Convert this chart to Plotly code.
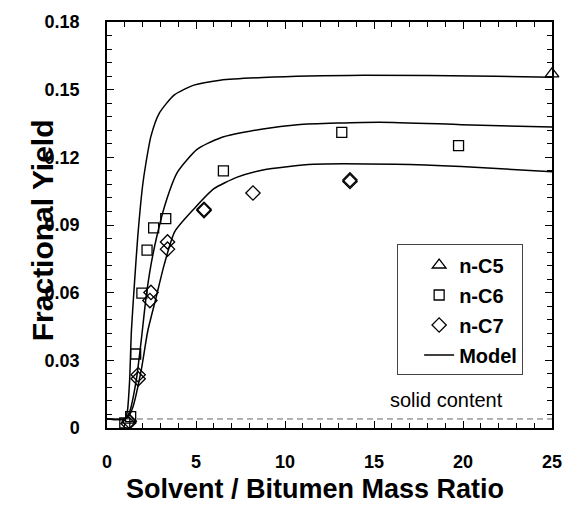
import plotly.graph_objects as go

# ---------------- data ----------------
c5_x = [1.25, 25.0]
c5_y = [0.0035, 0.157]

c6_x = [1.0, 1.33, 1.61, 1.96, 2.25, 2.62, 3.3, 6.54, 13.19, 19.75]
c6_y = [0.0023, 0.005, 0.0328, 0.0598, 0.0789, 0.0887, 0.0928, 0.114, 0.1311, 0.1252]

c7_x = [1.18, 1.25, 1.75, 1.75, 2.41, 2.47, 3.4, 3.4, 5.45, 5.45, 8.2, 13.65, 13.65]
c7_y = [0.002, 0.003, 0.0236, 0.0218, 0.0565, 0.0601, 0.0825, 0.0793, 0.0964, 0.097, 0.1042, 0.1093, 0.1100]

model_c5_x = [0, 1.0, 1.14, 1.27, 1.37, 1.55, 1.73, 2.0, 2.19, 2.47, 2.94, 3.77, 4.88, 6.36, 8.76, 14.4, 21.8, 25]
model_c5_y = [0.004, 0.004, 0.0072, 0.021, 0.043, 0.065, 0.085, 0.1074, 0.1176, 0.1294, 0.1396, 0.1476, 0.152,
              0.1542, 0.1554, 0.1564, 0.156, 0.1555]

model_c6_x = [0, 1.0, 1.27, 1.64, 1.92, 2.19, 2.47, 2.8, 3.3, 3.95, 5.06, 6.36, 8.76, 10.7, 15.3, 19.9, 25]
model_c6_y = [0.004, 0.004, 0.0072, 0.021, 0.0386, 0.0576, 0.0723, 0.085, 0.100, 0.1133, 0.1235, 0.1286, 0.1326,
              0.1345, 0.1356, 0.1345, 0.1334]

model_c7_x = [0, 1.0, 1.2, 1.46, 1.92, 2.29, 2.75, 3.21, 3.8, 4.88, 5.99, 7.28, 8.76, 11.6, 16.2, 19.9, 25]
model_c7_y = [0.004, 0.004, 0.005, 0.0094, 0.0255, 0.043, 0.0576, 0.0723, 0.087, 0.0971, 0.106, 0.1111, 0.1144,
              0.1169, 0.1169, 0.1159, 0.1136]

solid_content_x = [0, 25]
solid_content_y = [0.004, 0.004]

x_ticks = [0, 5, 10, 15, 20, 25]
y_ticks = [0, 0.03, 0.06, 0.09, 0.12, 0.15, 0.18]
y_tick_labels = ["0", "0.03", "0.06", "0.09", "0.12", "0.15", "0.18"]

FONT = "Liberation Sans, Arial, sans-serif"

fig = go.Figure()

# solid content dashed line
fig.add_trace(go.Scatter(x=solid_content_x, y=solid_content_y, mode="lines",
                         line=dict(color="#666666", width=1, dash="6px,4px"),
                         showlegend=False, hoverinfo="skip"))

# model curves
for i, (mx, my) in enumerate([(model_c5_x, model_c5_y), (model_c6_x, model_c6_y), (model_c7_x, model_c7_y)]):
    fig.add_trace(go.Scatter(x=mx, y=my, mode="lines", name="Model",
                             line=dict(color="black", width=1.5, shape="spline", smoothing=0.6),
                             showlegend=(i == 0), legendrank=4, legendgroup="model"))

mk_line = dict(color="black", width=1.3)
fig.add_trace(go.Scatter(x=c5_x, y=c5_y, mode="markers", name="n-C5", legendrank=1, legendgroup="c5",
                         cliponaxis=False,
                         marker=dict(symbol="triangle-up-open", size=12, color="black", line=mk_line)))
fig.add_trace(go.Scatter(x=c6_x, y=c6_y, mode="markers", name="n-C6", legendrank=2, legendgroup="c6",
                         marker=dict(symbol="square-open", size=10, color="black", line=mk_line)))
fig.add_trace(go.Scatter(x=c7_x, y=c7_y, mode="markers", name="n-C7", legendrank=3, legendgroup="c7",
                         marker=dict(symbol="diamond-open", size=11, color="black", line=mk_line)))

axis_common = dict(
    showline=True, linecolor="black", linewidth=1.5, mirror="ticks",
    ticks="inside", ticklen=7, tickwidth=1, tickcolor="black",
    showgrid=False, zeroline=False,
    tickfont=dict(family=FONT, size=18, color="black", weight="bold"),
)

fig.update_xaxes(range=[0, 25], tickvals=x_ticks, ticklabelstandoff=17,
                 minor=dict(dtick=1, ticks="inside", ticklen=5, tickcolor="black", showgrid=False),
                 **axis_common)
fig.update_yaxes(range=[0, 0.18], tickvals=y_ticks, ticktext=y_tick_labels, ticklabelstandoff=22,
                 minor=dict(dtick=0.006, ticks="inside", ticklen=5, tickcolor="black", showgrid=False),
                 **axis_common)

fig.add_annotation(x=19.1, y=0.0123, xref="x", yref="y", text="solid content", showarrow=False,
                   font=dict(family=FONT, size=20, color="black"))
fig.add_annotation(x=0.468, y=-0.15, xref="paper", yref="paper", text="Solvent / Bitumen Mass Ratio",
                   showarrow=False, xanchor="center", yanchor="middle",
                   font=dict(family=FONT, size=27, color="black", weight="bold"))
fig.add_annotation(x=-0.143, y=0.488, xref="paper", yref="paper", text="Fractional Yield",
                   showarrow=False, textangle=-90, xanchor="center", yanchor="middle",
                   font=dict(family=FONT, size=30, color="black", weight="bold"))

fig.update_layout(
    width=574, height=505,
    margin=dict(l=107, r=16, t=18, b=77),
    paper_bgcolor="white", plot_bgcolor="white",
    showlegend=True,
    legend=dict(x=0.652, y=0.452, xanchor="left", yanchor="top",
                bgcolor="white", bordercolor="#444444", borderwidth=1,
                font=dict(family=FONT, size=20, color="black", weight="bold"),
                traceorder="grouped", tracegroupgap=1, indentation=21),
)

fig.write_html("out.html")
